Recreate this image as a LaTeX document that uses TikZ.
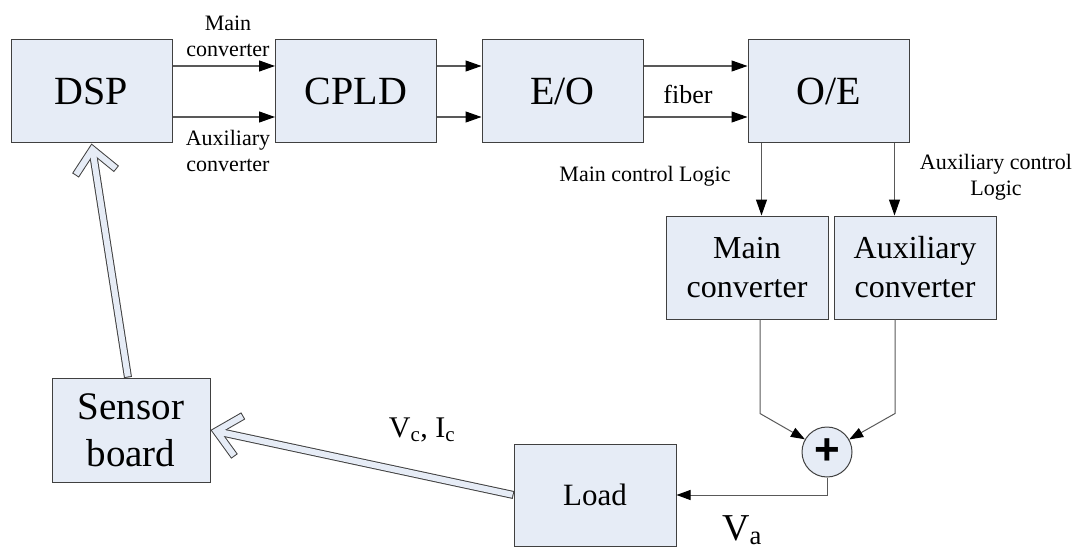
\documentclass[tikz,border=0pt]{standalone}
\usepackage{fontspec}
\setmainfont{Liberation Serif}
\newfontfamily\plusfont{Liberation Sans}
\usetikzlibrary{positioning}
\usetikzlibrary{calc}
\usetikzlibrary{arrows.meta}

\definecolor{boxfill}{RGB}{230,236,246}
\definecolor{rimgray}{RGB}{64,64,64}

\tikzset{
  block/.style={draw=rimgray, fill=boxfill, line width=1pt, inner sep=0pt,
    minimum width=161pt, minimum height=103pt, align=center,
    font=\fontsize{40}{46}\selectfont},
  conv/.style={block, minimum width=162pt, font=\fontsize{32}{39}\selectfont},
  link/.style={draw=black!65, line width=1.1pt,
    -{Triangle[length=16pt,width=11pt,color=black]}},
  sumlink/.style={draw=black!65, line width=1pt,
    -{Triangle[length=14pt,width=10pt,color=black]}},
  small/.style={font=\fontsize{22}{26}\selectfont, align=center, inner sep=0pt},
  fatrim/.style={draw=rimgray, line width=8pt},
  fatcore/.style={draw=boxfill, line width=6pt},
}

% hollow wide arrow from #1 to #2
\newcommand{\fatarrow}[2]{%
  \draw[fatrim] (#1) -- (#2);
  \draw[fatrim, line join=miter] ($(#2)!31pt!42:(#1)$) -- (#2) -- ($(#2)!31pt!-42:(#1)$);
  \draw[fatcore, shorten <=1pt] (#1) -- (#2);
  \draw[fatcore, line join=miter, shorten <=1pt, shorten >=1pt]
    ($(#2)!31pt!42:(#1)$) -- (#2) -- ($(#2)!31pt!-42:(#1)$);
}

\begin{document}
\begin{tikzpicture}[x=1pt, y=-1pt]
\useasboundingbox (0,0) rectangle (1078,548);

% top chain
\node[block] (dsp) at (91.5,91.5) {DSP};
\node[block] (cpld) at (356,91.5) {CPLD};
\node[block] (eo) at (562.5,91.5) {E/O};
\node[block] (oe) at (828.5,91.5) {O/E};

\draw[link] ([yshift=25.5pt]dsp.east) -- ([yshift=25.5pt]cpld.west);
\draw[link] ([yshift=-25.5pt]dsp.east) -- ([yshift=-25.5pt]cpld.west);
\draw[link] ([yshift=25.5pt]cpld.east) -- ([yshift=25.5pt]eo.west);
\draw[link] ([yshift=-25.5pt]cpld.east) -- ([yshift=-25.5pt]eo.west);
\draw[link] ([yshift=25.5pt]eo.east) -- ([yshift=25.5pt]oe.west);
\draw[link] ([yshift=-25.5pt]eo.east) -- ([yshift=-25.5pt]oe.west);

\node[small] (mainlbl) at (228,36) {Main\\converter};
\node[small] (auxlbl) at (228,151) {Auxiliary\\converter};
\node[small, font=\fontsize{26}{30}\selectfont] (fiber) at (688,94) {fiber};
\node[small] (mainlogic) at (645,176) {Main control Logic};
\node[small] (auxlogic) at (996,177) {Auxiliary control\\Logic};

% converters
\node[conv] (main) at (747,267.5) {Main\\converter};
\node[conv] (aux) at (915,267.5) {Auxiliary\\converter};

\coordinate (mdrop) at ([xshift=14pt]oe.south west);
\coordinate (adrop) at ([xshift=-15pt]oe.south east);
\draw[link] (mdrop) -- (mdrop |- main.north);
\draw[link] (adrop) -- (adrop |- aux.north);

% adder and load
\node[circle, draw=rimgray, fill=boxfill, line width=1pt, minimum size=50pt,
  inner sep=0pt, font=\plusfont\bfseries\fontsize{44}{44}\selectfont] (sum) at (827,452) {+};
\draw[sumlink] ([xshift=13pt]main.south) -- ++(0,94) -- (sum);
\draw[sumlink] ([xshift=-20pt]aux.south) -- ++(0,94) -- (sum);

\node[conv, minimum height=102pt, font=\fontsize{31}{36}\selectfont] (load) at (595,495) {Load};
\draw[sumlink] (sum) |- (load);
\node[font=\fontsize{38}{40}\selectfont, inner sep=0pt] (va) at (742,530) {V\textsubscript{a}};

% feedback
\node[block, minimum width=158pt, minimum height=104pt,
  font=\fontsize{39}{47}\selectfont] (sensor) at (131,430) {Sensor\\board};
\node[font=\fontsize{30}{32}\selectfont, inner sep=0pt] (vcic) at (422,430) {V\textsubscript{c}, I\textsubscript{c}};

\coordinate (fbtail) at ([xshift=-3pt]sensor.north);
\coordinate (fbtip) at ($(dsp.south)!6pt!(fbtail)$);
\fatarrow{fbtail}{fbtip}
\coordinate (meastail) at (load.west);
\coordinate (meastip) at ($(sensor.east)!6pt!(meastail)$);
\fatarrow{meastail}{meastip}

\end{tikzpicture}
\end{document}
